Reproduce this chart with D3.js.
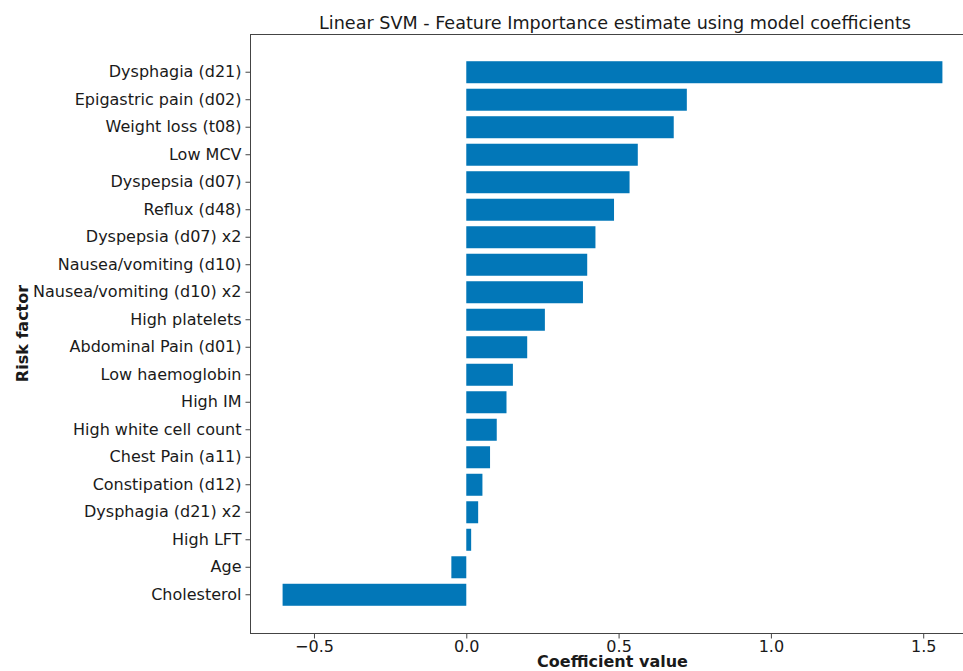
<!DOCTYPE html>
<html>
<head>
<meta charset="utf-8">
<script src="https://cdn.jsdelivr.net/npm/d3@7"></script>
<style>
  html, body { margin: 0; padding: 0; background: #fff; }
  svg { display: block; }
  text { font-family: "DejaVu Sans", sans-serif; fill: #1a1a1a; }
</style>
</head>
<body>
<svg id="chart" width="963" height="671"></svg>
<script>
const categories = [
  "Dysphagia (d21)", "Epigastric pain (d02)", "Weight loss (t08)", "Low MCV",
  "Dyspepsia (d07)", "Reflux (d48)", "Dyspepsia (d07) x2", "Nausea/vomiting (d10)",
  "Nausea/vomiting (d10) x2", "High platelets", "Abdominal Pain (d01)", "Low haemoglobin",
  "High IM", "High white cell count", "Chest Pain (a11)", "Constipation (d12)",
  "Dysphagia (d21) x2", "High LFT", "Age", "Cholesterol"
];
const coefficients = [
  1.563, 0.724, 0.681, 0.563, 0.536, 0.485, 0.424, 0.397, 0.383, 0.258,
  0.200, 0.153, 0.132, 0.100, 0.078, 0.053, 0.039, 0.016, -0.049, -0.603
];
const xTicks = [-0.5, 0.0, 0.5, 1.0, 1.5];
const xDomain = [-0.71, 1.67];
const titleText = "Linear SVM - Feature Importance estimate using model coefficients";
const xLabel = "Coefficient value";
const yLabel = "Risk factor";

const svg = d3.select("#chart");
const m = { left: 250, right: 975, top: 34, bottom: 633 };
const barColor = "#0277b8";

const x = d3.scaleLinear().domain(xDomain).range([m.left, m.right]);
const y = d3.scaleBand().domain(categories).range([m.top, m.bottom])
  .paddingInner(0.2).paddingOuter(0.99);

// bars
svg.append("g").selectAll("rect")
  .data(categories.map((c, i) => ({ c, v: coefficients[i] })))
  .join("rect")
  .attr("x", d => x(Math.min(0, d.v)))
  .attr("width", d => Math.abs(x(d.v) - x(0)))
  .attr("y", d => y(d.c))
  .attr("height", y.bandwidth())
  .attr("fill", barColor);

// spines
const spine = svg.append("g").attr("stroke", "#444").attr("stroke-width", 1).attr("fill", "none");
spine.append("rect")
  .attr("x", m.left + 0.5).attr("y", m.top + 0.5)
  .attr("width", m.right - m.left).attr("height", m.bottom - m.top);

// x axis
const xAxis = d3.axisBottom(x).tickValues(xTicks).tickSize(5).tickPadding(2)
  .tickFormat(d => d3.format(".1f")(d).replace("-", "\u2212"));
const gx = svg.append("g").attr("transform", `translate(0,${m.bottom + 0.5})`).call(xAxis);
gx.select(".domain").remove();
gx.selectAll("line").attr("stroke", "#444");
gx.selectAll("text").attr("font-size", 16).attr("font-family", "DejaVu Sans").attr("fill", "#1a1a1a");

// y axis
const yAxis = d3.axisLeft(y).tickSize(5).tickPadding(4);
const gy = svg.append("g").attr("transform", `translate(${m.left + 0.5},0)`).call(yAxis);
gy.select(".domain").remove();
gy.selectAll("line").attr("stroke", "#444");
gy.selectAll("text").attr("font-size", 16).attr("font-family", "DejaVu Sans").attr("fill", "#1a1a1a");

// title
svg.append("text")
  .attr("x", 615).attr("y", 29)
  .attr("text-anchor", "middle").attr("font-size", 17.6)
  .text(titleText);

// x label
svg.append("text")
  .attr("x", (m.left + m.right) / 2).attr("y", 667)
  .attr("text-anchor", "middle").attr("font-size", 16).attr("font-weight", "bold")
  .text(xLabel);

// y label
svg.append("text")
  .attr("transform", `translate(28,${(m.top + m.bottom) / 2}) rotate(-90)`)
  .attr("text-anchor", "middle").attr("font-size", 16).attr("font-weight", "bold")
  .text(yLabel);
</script>
</body>
</html>
